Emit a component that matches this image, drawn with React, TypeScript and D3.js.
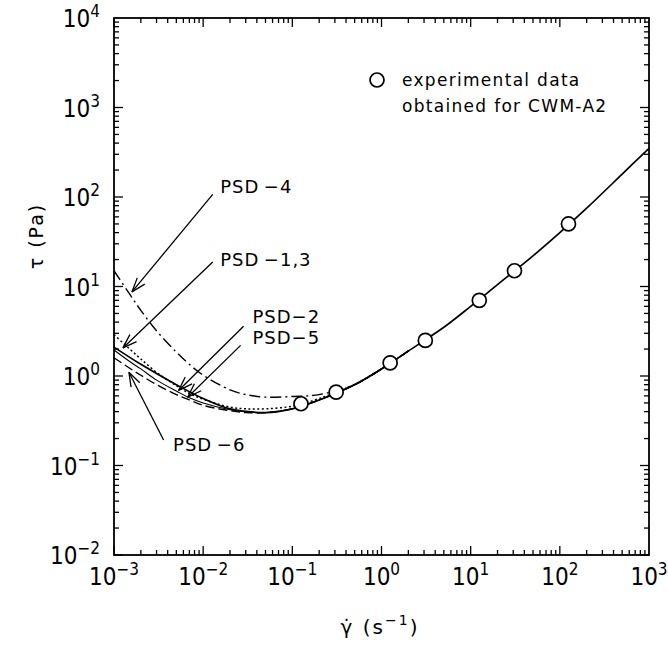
import React, { useEffect, useRef } from "react";
import * as d3 from "d3";

// shear rate grid for the model curves (s^-1)
const gammaMain = [0.001, 0.002, 0.005, 0.01, 0.02, 0.05, 0.1, 0.2, 0.5, 1, 2, 5, 10, 20, 50, 100, 200, 500, 1000];
const tauMain = [2.1, 1.35, 0.8, 0.56, 0.43, 0.39, 0.43, 0.54, 0.8, 1.2, 1.9, 3.5, 6.0, 10.5, 22, 40, 75, 180, 350];

const gammaLow = [0.001, 0.0015, 0.002, 0.003, 0.005, 0.007, 0.01, 0.02, 0.03, 0.05, 0.1, 0.2, 0.5, 1, 2];
const tauPsd4 = [15, 8.2, 5.4, 3.2, 1.85, 1.35, 1.02, 0.7, 0.62, 0.58, 0.59, 0.62, 0.8, 1.2, 1.9];
const tauPsd2 = [2.9, 2.0, 1.55, 1.1, 0.78, 0.64, 0.55, 0.45, 0.43, 0.43, 0.46, 0.56, 0.81, 1.2, 1.9];
const tauPsd5 = [1.95, 1.45, 1.2, 0.9, 0.68, 0.57, 0.5, 0.42, 0.4, 0.39, 0.43, 0.54, 0.8, 1.2, 1.9];
const tauPsd6 = [1.6, 1.22, 1.02, 0.8, 0.62, 0.54, 0.47, 0.41, 0.39, 0.39, 0.43, 0.54, 0.8, 1.2, 1.9];

// experimental points, CWM-A2
const expGamma = [0.125, 0.31, 1.25, 3.1, 12.5, 31, 125];
const expTau = [0.49, 0.66, 1.4, 2.5, 7.0, 15, 50];

const xTicks = [-3, -2, -1, 0, 1, 2, 3];
const yTicks = [-2, -1, 0, 1, 2, 3, 4];

// annotations: label anchor, start of leader line and arrow tip, in data units
const labels = ["PSD\u2009\u22124", "PSD\u2009\u22121,3", "PSD\u22122", "PSD\u22125", "PSD\u2009\u22126"];
const labelAt = [[0.0155, 126], [0.0155, 19.5], [0.0357, 4.45], [0.0357, 2.6], [0.0046, 0.165]];
const lineFrom = [[0.0128, 107], [0.0128, 18.8], [0.0284, 3.6], [0.0263, 2.2], [0.0036, 0.193]];
const arrowTip = [[0.00159, 8.7], [0.00126, 2.06], [0.0053, 0.69], [0.0067, 0.58], [0.00147, 1.1]];

export default function App() {
  const ref = useRef<SVGSVGElement>(null);

  useEffect(() => {
    const width = 668, height = 650;
    const left = 114, right = 649, top = 18, bottom = 555;
    const font = "'DejaVu Sans', sans-serif";

    const svg = d3.select(ref.current);
    svg.selectAll("*").remove();

    const x = d3.scaleLog().domain([1e-3, 1e3]).range([left, right]);
    const y = d3.scaleLog().domain([1e-2, 1e4]).range([bottom, top]);

    // frame
    svg.append("rect").attr("x", left).attr("y", top)
      .attr("width", right - left).attr("height", bottom - top)
      .attr("fill", "none").attr("stroke", "#000").attr("stroke-width", 1.8);

    // inward ticks on all four sides
    const ticks = svg.append("g").attr("stroke", "#000").attr("stroke-width", 1.3);
    for (let e = -3; e < 3; e++) {
      for (let m = 1; m <= 9; m++) {
        const v = m * Math.pow(10, e);
        const len = m === 1 ? 9 : 5;
        const px = x(v);
        ticks.append("line").attr("x1", px).attr("x2", px).attr("y1", bottom).attr("y2", bottom - len);
        ticks.append("line").attr("x1", px).attr("x2", px).attr("y1", top).attr("y2", top + len);
      }
    }
    for (let e = -2; e < 4; e++) {
      for (let m = 1; m <= 9; m++) {
        const v = m * Math.pow(10, e);
        const len = m === 1 ? 9 : 5;
        const py = y(v);
        ticks.append("line").attr("y1", py).attr("y2", py).attr("x1", left).attr("x2", left + len);
        ticks.append("line").attr("y1", py).attr("y2", py).attr("x1", right).attr("x2", right - len);
      }
    }

    // tick labels: 10 with a raised exponent
    const tickLabel = (g: any, e: number) => {
      g.append("tspan").text("10");
      g.append("tspan").attr("font-size", 17).attr("dy", -10).text(e < 0 ? "\u2212" + -e : String(e));
    };
    xTicks.forEach(e => {
      const t = svg.append("text").attr("x", x(Math.pow(10, e))).attr("y", bottom + 30)
        .attr("text-anchor", "middle").attr("font-family", font).attr("font-stretch", "condensed")
        .attr("font-size", 24);
      tickLabel(t, e);
    });
    yTicks.forEach(e => {
      const t = svg.append("text").attr("x", left - 14).attr("y", y(Math.pow(10, e)) + 9)
        .attr("text-anchor", "end").attr("font-family", font).attr("font-stretch", "condensed")
        .attr("font-size", 24);
      tickLabel(t, e);
    });

    // axis titles
    svg.append("text").attr("transform", `translate(37,236) rotate(-90)`)
      .attr("text-anchor", "middle").attr("dominant-baseline", "middle")
      .attr("font-family", font).attr("font-size", 19).attr("letter-spacing", 2)
      .text("\u03c4 (Pa)");
    const xt = svg.append("text").attr("x", 380).attr("y", 634)
      .attr("text-anchor", "middle").attr("font-family", font).attr("font-size", 20)
      .attr("letter-spacing", 2);
    xt.append("tspan").text("\u03b3\u0307  (s");
    xt.append("tspan").attr("font-size", 14).attr("dy", -9).text("\u22121");
    xt.append("tspan").attr("dy", 9).text(")");

    // curves
    const line = d3.line<[number, number]>()
      .x(d => x(d[0])).y(d => y(d[1]))
      .curve(d3.curveCatmullRom);
    const drawCurve = (gs: number[], ts: number[], dash: string | null, w: number) => {
      svg.append("path").datum(gs.map((g, i) => [g, ts[i]] as [number, number]))
        .attr("d", line).attr("fill", "none").attr("stroke", "#000")
        .attr("stroke-width", w).attr("stroke-dasharray", dash);
    };
    drawCurve(gammaLow, tauPsd4, "11,4,2,4", 1.4);
    drawCurve(gammaLow, tauPsd2, "2,2.5", 1.5);
    drawCurve(gammaLow, tauPsd5, null, 1.1);
    drawCurve(gammaLow, tauPsd6, "9,4", 1.4);
    drawCurve(gammaMain, tauMain, null, 1.7);

    // experimental points
    svg.selectAll("circle.exp").data(expGamma).enter().append("circle")
      .attr("cx", d => x(d)).attr("cy", (d, i) => y(expTau[i])).attr("r", 7)
      .attr("fill", "#fff").attr("stroke", "#000").attr("stroke-width", 1.7);

    // labels with arrows
    labels.forEach((s, i) => {
      svg.append("text").attr("x", x(labelAt[i][0])).attr("y", y(labelAt[i][1]))
        .attr("dominant-baseline", "middle").attr("font-family", font).attr("font-size", 18)
        .attr("letter-spacing", 1).text(s);
      const x0 = x(lineFrom[i][0]), y0 = y(lineFrom[i][1]);
      const x1 = x(arrowTip[i][0]), y1 = y(arrowTip[i][1]);
      svg.append("line").attr("x1", x0).attr("y1", y0).attr("x2", x1).attr("y2", y1)
        .attr("stroke", "#000").attr("stroke-width", 1.3);
      const a = Math.atan2(y0 - y1, x0 - x1);
      [-0.33, 0.33].forEach(da => {
        svg.append("line").attr("x1", x1).attr("y1", y1)
          .attr("x2", x1 + 15 * Math.cos(a + da)).attr("y2", y1 + 15 * Math.sin(a + da))
          .attr("stroke", "#000").attr("stroke-width", 1.3);
      });
    });

    // legend
    svg.append("circle").attr("cx", 377).attr("cy", 80).attr("r", 7)
      .attr("fill", "#fff").attr("stroke", "#000").attr("stroke-width", 1.7);
    svg.append("text").attr("x", 402).attr("y", 86).attr("font-family", font).attr("font-size", 17)
      .attr("letter-spacing", 1.3).text("experimental data");
    svg.append("text").attr("x", 402).attr("y", 112).attr("font-family", font).attr("font-size", 17)
      .attr("letter-spacing", 1.3).text("obtained for CWM-A2");

    svg.attr("width", width).attr("height", height);
  }, []);

  return (
    <svg ref={ref} width={668} height={650}
      style={{ position: "absolute", left: 0, top: 0, background: "#fff" }} />
  );
}
